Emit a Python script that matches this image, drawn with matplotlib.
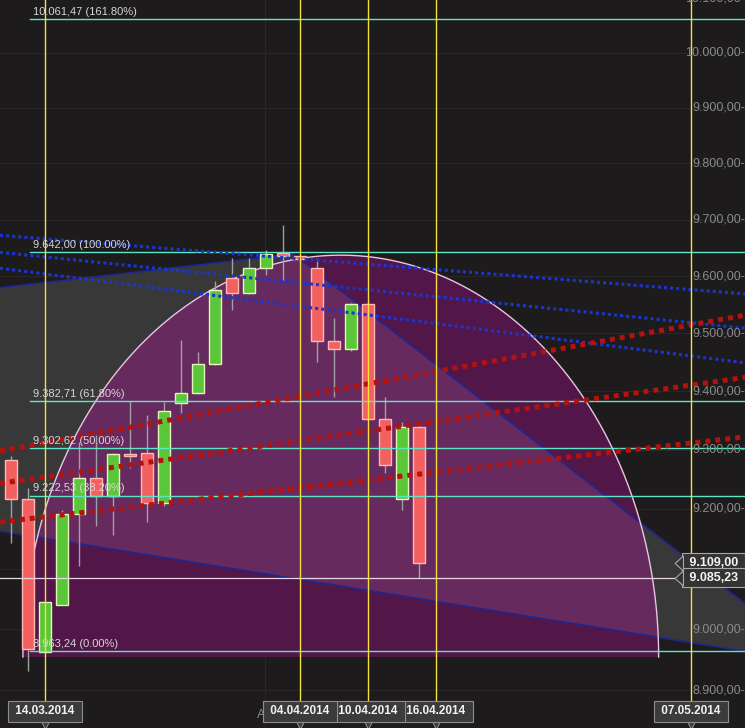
import numpy as np
import matplotlib
matplotlib.use("Agg")
import matplotlib.pyplot as plt
from matplotlib.patches import Polygon
from matplotlib.path import Path

plt.rcParams['font.family'] = ['Liberation Sans', 'DejaVu Sans']

### DATA
# day index 0 = 14.03.2014 (one step per trading day)
days   = list(range(-2, 23))
opens  = [9282, 9216, 8963, 9039, 9191, 9252, 9221, 9293, 9294, 9210, 9380, 9397, 9447,
          9597, 9570, 9614, 9641, 9635, 9614, 9487, 9473, 9551, 9352, 9216, 9339]
highs  = [9290, 9235, 9044, 9198, 9313, 9325, 9295, 9384, 9359, 9381, 9488, 9468, 9591,
          9632, 9632, 9646, 9690, 9637, 9632, 9527, 9553, 9555, 9390, 9347, 9347]
lows   = [9142, 8932, 8960, 9039, 9105, 9172, 9156, 9269, 9178, 9205, 9362, 9395, 9445,
          9541, 9568, 9602, 9593, 9625, 9450, 9390, 9470, 9350, 9260, 9198, 9085.23]
closes = [9216, 8967, 9044, 9191, 9252, 9221, 9293, 9289, 9210, 9366, 9397, 9447, 9576,
          9570, 9614, 9639, 9635, 9630, 9487, 9473, 9551, 9352, 9274, 9339, 9109]

fib_levels = [8963.24, 9222.53, 9302.62, 9382.71, 9642.00, 10061.47]
fib_pcts   = ["0.00%", "38.20%", "50.00%", "61.80%", "100.00%", "161.80%"]

marker_days  = [0, 15, 19, 23, 38]
marker_dates = ["14.03.2014", "04.04.2014", "10.04.2014", "16.04.2014", "07.05.2014"]

price_ticks = list(range(8900, 10101, 100))
last_price  = 9109.00
low_price   = 9085.23

# drawing objects (day index, price)
line_days   = [-2.65, 41.2]
blue_lines  = [[9672, 9569], [9642, 9509], [9614, 9449]]
red_lines   = [[9298, 9532], [9243, 9424], [9178, 9322]]
tri_days    = [-54.5, 14.6, 45.75]
tri_prices  = [9404, 9639, 8943]
arc_days    = [-1.3, 36.1]
arc_prices  = [8954, 9637]
month_day   = 12.95

BG = '#1d1b1b'


def de(v):
    s = f"{v:,.2f}"
    return s.replace(",", "X").replace(".", ",").replace("X", ".")


fig = plt.figure(figsize=(7.45, 7.28), dpi=100, facecolor=BG)
ax = fig.add_axes([0, 0, 1, 1])
ax.set_facecolor(BG)
ax.set_yscale('log')
ax.set_xlim(-2.647, 41.18)
ax.set_ylim(8838.6, 10097.4)
ax.axis('off')

# faint grid
for p in price_ticks:
    ax.axhline(p, color='#292727', lw=0.8, zorder=0.5)
ax.axvline(month_day, color='#292727', lw=0.8, zorder=0.5)

### TRIANGLE + ARC
tri = Polygon(list(zip(tri_days, tri_prices)), closed=True, fc='#383838', ec='none', zorder=1)
ax.add_patch(tri)

t = np.linspace(0, np.pi, 300)
cx = (arc_days[0] + arc_days[1]) / 2
rx = (arc_days[1] - arc_days[0]) / 2
lb, lt = np.log(arc_prices[0]), np.log(arc_prices[1])
ax_x = cx + rx * np.cos(t)
ax_y = np.exp(lb + (lt - lb) * np.sin(t))
arc = Polygon(list(zip(ax_x, ax_y)), closed=True, fc='#521748', ec='none', zorder=1.1)
ax.add_patch(arc)

tri2 = Polygon(list(zip(tri_days, tri_prices)), closed=True, fc='#662a5f', ec='none', zorder=1.2)
ax.add_patch(tri2)
tri2.set_clip_path(arc)

ax.add_patch(Polygon(list(zip(tri_days, tri_prices)), closed=True, fc='none',
                     ec='#1f2690', lw=1.2, zorder=1.3))
ax.plot(ax_x, ax_y, color='#e6c6e2', lw=1.0, zorder=1.4)

### CANDLES
o = np.array(opens, float); c = np.array(closes, float)
up = c >= o
ax.vlines(days, lows, highs, color='#a0a0a0', lw=1.0, zorder=2)
d = np.array(days)
ax.bar(d[up], c[up] - o[up], bottom=o[up], width=0.68, color='#5cc63a',
       edgecolor='#e4f6b8', lw=1.0, zorder=2.1)
ax.bar(d[~up], o[~up] - c[~up], bottom=c[~up], width=0.68, color='#f26060',
       edgecolor='#ffb8b8', lw=1.0, zorder=2.1)

### FIB LEVELS
for lvl, pct in zip(fib_levels, fib_pcts):
    ax.plot([-0.9, 41.2], [lvl, lvl], color='#5ee6c6', lw=1.0, zorder=3)
    ax.annotate(f"{de(lvl)} ({pct})", (-0.7, lvl), xytext=(0, 1.5), textcoords='offset points',
                color='#d6d6d6', fontsize=8, va='bottom', ha='left', zorder=6)

ax.axhline(low_price, color='#e6d6e6', lw=0.9, zorder=3)

### TREND LINES
for pr in blue_lines:
    ax.plot(line_days, pr, color='#1a36d0', lw=2.2, ls=(0, (1, 1)), zorder=4)
for pr in red_lines:
    ax.plot(line_days, pr, color='#b3120e', lw=3.6, ls=(0, (1, 1)), zorder=4)

### VERTICAL DATE LINES
for md in marker_days:
    ax.axvline(md, color='#f2e23a', lw=1.0, zorder=4.5)

### PRICE SCALE
for p in price_ticks:
    ax.text(1.0, p, de(p) + "-", transform=ax.get_yaxis_transform(), ha='right', va='center',
            color='#8a8a8a', fontsize=9, zorder=5)

ax.text(12.47, 0.018, "Apr", transform=ax.get_xaxis_transform(), ha='left', va='center',
        color='#8a8a8a', fontsize=9, zorder=5)

### DATE BOXES
for k, (md, lab) in enumerate(zip(marker_days, marker_dates)):
    z = 20 - k
    ax.text(md, 0.0227, f" {lab} ", transform=ax.get_xaxis_transform(), ha='center',
            va='center', color='#f2f2f2', fontsize=8.5, fontweight='bold', zorder=z,
            bbox=dict(boxstyle='square,pad=0.35', fc='#3b3b3b', ec='#8c8c8c', lw=0.8))
    ax.plot(md, 0.0055, marker='v', ms=7, color='#3b3b3b', mec='#8c8c8c', mew=0.8,
            transform=ax.get_xaxis_transform(), clip_on=False, zorder=z - 0.5)

### PRICE BOXES
arrow = Path([(-1.1, 0), (0, -1), (0, 1), (-1.1, 0)],
             [Path.MOVETO, Path.LINETO, Path.LINETO, Path.CLOSEPOLY])
for p in [last_price, low_price]:
    ax.text(0.9205, p, f" {de(p)} ", transform=ax.get_yaxis_transform(), ha='left', va='center',
            color='#f4f4f4', fontsize=9, fontweight='bold', zorder=21,
            bbox=dict(boxstyle='square,pad=0.3', fc='#333333', ec='#a8a8a8', lw=0.8))
    ax.plot(0.9168, p, marker=arrow, ms=12, color='#333333', mec='#a8a8a8', mew=0.8,
            transform=ax.get_yaxis_transform(), clip_on=False, zorder=22)

fig.savefig("out.png", dpi=100, facecolor=BG)
